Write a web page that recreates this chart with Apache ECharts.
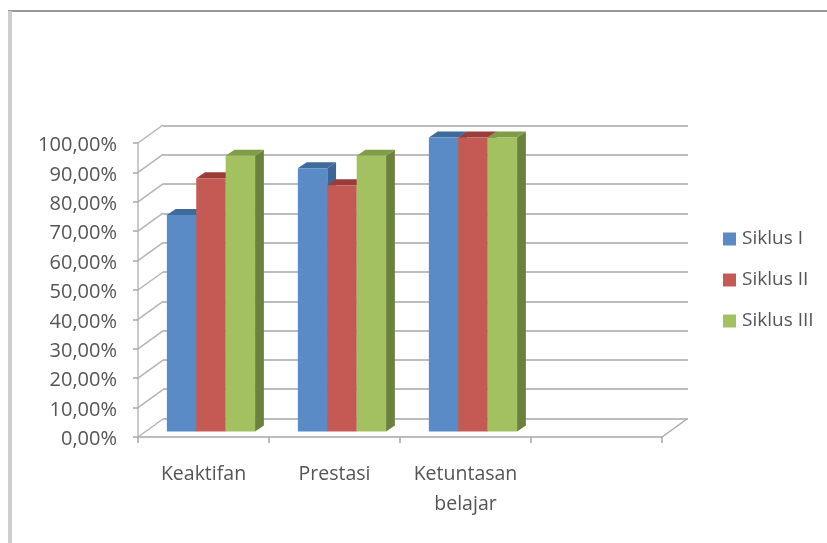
<!DOCTYPE html>
<html>
<head>
<meta charset="utf-8">
<style>html,body{margin:0;padding:0;background:#fff}#chart{width:827px;height:543px}</style>
<script src="https://cdn.jsdelivr.net/npm/echarts@6/dist/echarts.min.js"></script>
</head>
<body>
<div id="chart"></div>
<script>
// Persentase ketercapaian per siklus
const categories = ['Keaktifan', 'Prestasi', 'Ketuntasan\nbelajar', ''];
const seriesNames = ['Siklus I', 'Siklus II', 'Siklus III'];
const siklus1 = [0.736, 0.895, 1.0];
const siklus2 = [0.861, 0.838, 1.0];
const siklus3 = [0.938, 0.938, 1.0];
const valueTicks = [0, 0.1, 0.2, 0.3, 0.4, 0.5, 0.6, 0.7, 0.8, 0.9, 1];

const frontColors = ['#5b8bc7', '#c55a55', '#a3c160'];
const topColors = ['#3f6a9c', '#9a3c39', '#7f9c47'];
const sideColors = ['#3c6695', '#8f3734', '#6b8140'];

const FONT = '"Open Sans"';
const TEXT = '#555555';
// Depth of the chart box and of the columns, in pixels
const WALL_DX = 25, WALL_DY = 18;
const BAR_DX = 8.8, BAR_DY = 6, BAR_LIFT = 5.5;

function percentLabel(v) {
  return (v * 100).toFixed(2).replace('.', ',') + '%';
}

// Column with front, top and side faces
function columnRenderer(si) {
  return function (params, api) {
    const cat = api.value(0);
    const p = api.coord([cat, api.value(1)]);
    const base = api.coord([cat, 0]);
    const band = api.size([1, 0])[0];
    const w = band * 0.2245;
    const x0 = p[0] + band * 0.057 + (si - 1.5) * w;
    const x1 = x0 + w;
    const yt = p[1] - BAR_LIFT;
    const yb = base[1] - BAR_LIFT;
    return {
      type: 'group',
      children: [
        { type: 'polygon', shape: { points: [[x1, yt], [x1 + BAR_DX, yt - BAR_DY], [x1 + BAR_DX, yb - BAR_DY], [x1, yb]] }, style: { fill: sideColors[si] } },
        { type: 'polygon', shape: { points: [[x0, yt], [x1, yt], [x1 + BAR_DX, yt - BAR_DY], [x0 + BAR_DX, yt - BAR_DY]] }, style: { fill: topColors[si] } },
        { type: 'rect', shape: { x: x0, y: yt, width: w, height: yb - yt }, style: { fill: frontColors[si] } }
      ]
    };
  };
}

// Side-wall diagonals that join the front axis to the back gridlines
function diagonalRenderer(params, api) {
  const cs = params.coordSys;
  const y = api.coord([0, api.value(0)])[1];
  return {
    type: 'line',
    shape: { x1: cs.x, y1: y, x2: cs.x + WALL_DX, y2: y - WALL_DY },
    style: { stroke: '#b4b4b4', lineWidth: 1.5 }
  };
}

// Floor edge on the right-hand side
function floorEdgeRenderer(params, api) {
  const cs = params.coordSys;
  const y = api.coord([0, 0])[1];
  return {
    type: 'line',
    shape: { x1: cs.x + cs.width, y1: y, x2: cs.x + cs.width + WALL_DX, y2: y - WALL_DY },
    style: { stroke: '#a8a8a8', lineWidth: 1.5 }
  };
}

const chart = echarts.init(document.getElementById('chart'), null, { renderer: 'canvas' });

const barSeries = [siklus1, siklus2, siklus3].map((vals, si) => ({
  name: seriesNames[si],
  type: 'custom',
  xAxisIndex: 0,
  yAxisIndex: 0,
  z: 5 + si,
  clip: false,
  itemStyle: { color: frontColors[si] },
  encode: { x: 0, y: 1 },
  data: vals.map((v, i) => [i, v]),
  renderItem: columnRenderer(si)
}));

chart.setOption({
  animation: false,
  backgroundColor: '#ffffff',
  graphic: [
    { type: 'rect', silent: true, shape: { x: 8, y: 10, width: 819, height: 2 }, style: { fill: '#989898' } },
    { type: 'rect', silent: true, shape: { x: 8, y: 11, width: 4, height: 532 }, style: { fill: '#cdcdcd' } }
  ],
  grid: [
    { left: 138, top: 143, width: 524, height: 294 },
    { left: 163, top: 125.5, width: 525, height: 293 }
  ],
  xAxis: [
    {
      type: 'category', gridIndex: 0, data: categories, boundaryGap: true,
      axisLine: { show: true, lineStyle: { color: '#a8a8a8', width: 1.5 } },
      axisTick: { show: true, alignWithLabel: false, length: 6, lineStyle: { color: '#a8a8a8', width: 1.5 } },
      axisLabel: { color: TEXT, fontFamily: FONT, fontSize: 19.5, margin: 22, lineHeight: 30, interval: 0 },
      splitLine: { show: false }
    },
    {
      type: 'category', gridIndex: 1, data: categories, show: false
    }
  ],
  yAxis: [
    {
      type: 'value', gridIndex: 0, min: 0, max: 1, interval: 0.1,
      axisLine: { show: true, lineStyle: { color: '#b8b8b8', width: 1.5 } },
      axisTick: { show: true, length: 5, lineStyle: { color: '#a8a8a8', width: 1.5 } },
      axisLabel: { color: TEXT, fontFamily: FONT, fontSize: 20, margin: 21, verticalAlign: 'top', lineHeight: 5, formatter: percentLabel },
      splitLine: { show: false }
    },
    {
      type: 'value', gridIndex: 1, min: 0, max: 1, interval: 0.1,
      axisLine: { show: false }, axisTick: { show: false }, axisLabel: { show: false },
      splitLine: { show: true, lineStyle: { color: '#bdbdbd', width: 2 } }
    }
  ],
  legend: {
    orient: 'vertical', left: 718, top: 224.5,
    icon: 'rect', itemWidth: 13, itemHeight: 13, itemGap: 22,
    data: seriesNames,
    textStyle: { color: TEXT, fontFamily: FONT, fontSize: 19, padding: [0, 0, 0, 1] }
  },
  series: [
    {
      type: 'custom', xAxisIndex: 0, yAxisIndex: 0, z: 2, clip: false, silent: true,
      encode: { y: 0 }, data: valueTicks.map(v => [v]), renderItem: diagonalRenderer
    },
    {
      type: 'custom', xAxisIndex: 0, yAxisIndex: 0, z: 2, clip: false, silent: true,
      encode: { y: 0 }, data: [[0]], renderItem: floorEdgeRenderer
    }
  ].concat(barSeries)
});
</script>
</body>
</html>
